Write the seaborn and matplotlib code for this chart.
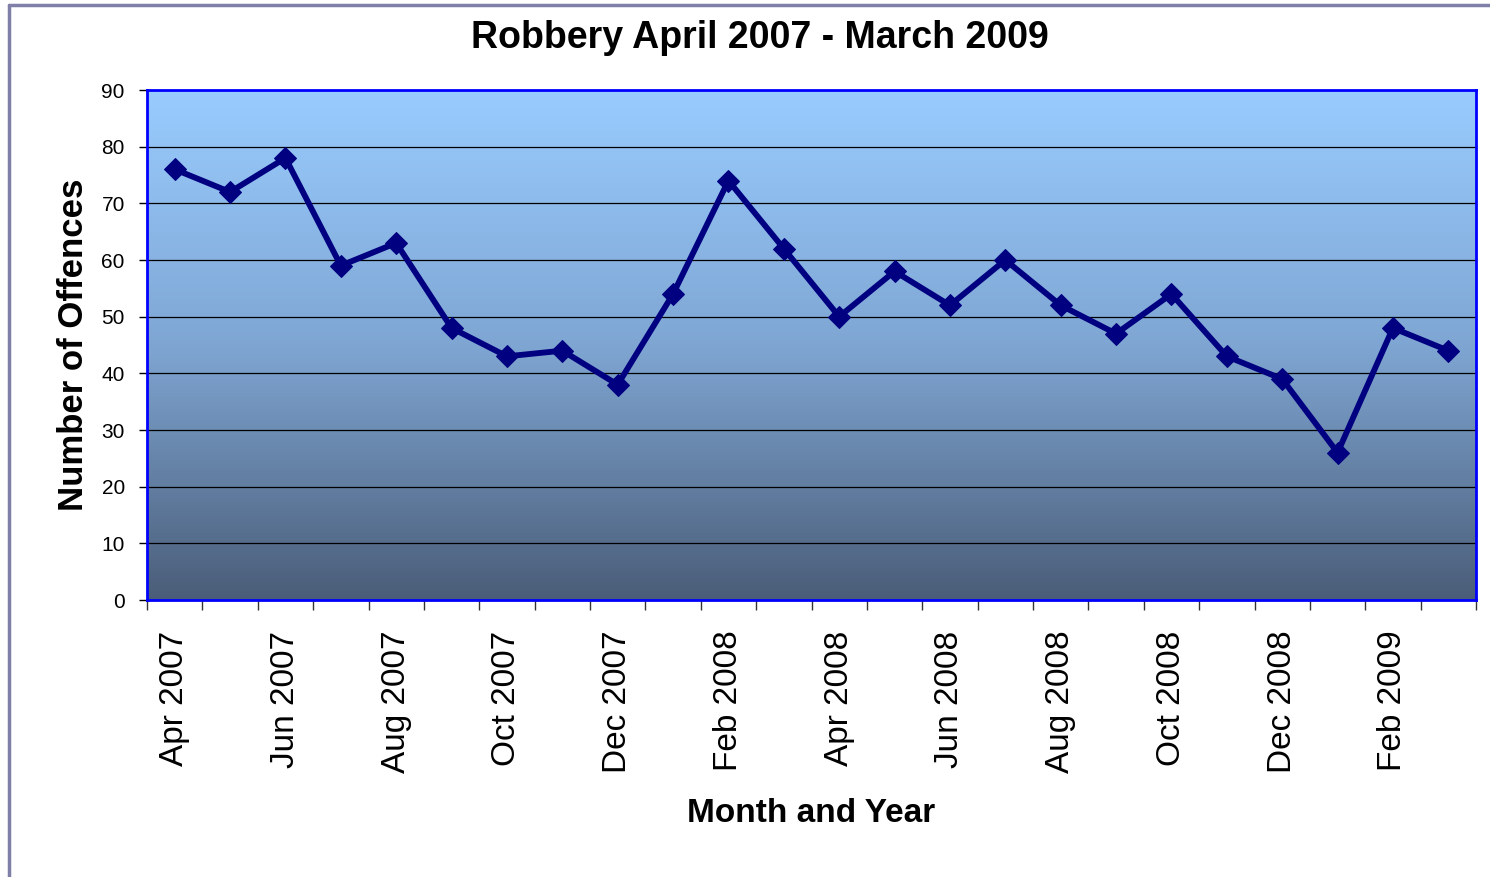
import numpy as np
import pandas as pd
import matplotlib
matplotlib.use("Agg")
import matplotlib.pyplot as plt
import seaborn as sns
from matplotlib.colors import LinearSegmentedColormap
from matplotlib.lines import Line2D

months = ["Apr 2007", "May 2007", "Jun 2007", "Jul 2007", "Aug 2007", "Sep 2007",
          "Oct 2007", "Nov 2007", "Dec 2007", "Jan 2008", "Feb 2008", "Mar 2008",
          "Apr 2008", "May 2008", "Jun 2008", "Jul 2008", "Aug 2008", "Sep 2008",
          "Oct 2008", "Nov 2008", "Dec 2008", "Jan 2009", "Feb 2009", "Mar 2009"]
offences = [76, 72, 78, 59, 63, 48, 43, 44, 38, 54, 74, 62,
            50, 58, 52, 60, 52, 47, 54, 43, 39, 26, 48, 44]
y_ticks = [0, 10, 20, 30, 40, 50, 60, 70, 80, 90]

sns.set_theme(style="white")
plt.rcParams['font.family'] = ['Liberation Sans', 'DejaVu Sans']
plt.rcParams['text.color'] = 'black'
plt.rcParams['axes.labelcolor'] = 'black'
plt.rcParams['xtick.color'] = 'black'
plt.rcParams['ytick.color'] = 'black'

df = pd.DataFrame({"idx": np.arange(len(months)), "month": months, "offences": offences})

fig = plt.figure(figsize=(14.9, 8.77), dpi=100)
ax = fig.add_axes([147/1490, 1-600/877, (1476-147)/1490, (600-90)/877])

# gradient background
cmap = LinearSegmentedColormap.from_list("bg", ["#4A5D78", "#7FA6D3", "#99CCFF"])
grad = np.linspace(0, 1, 256).reshape(-1, 1)
ax.imshow(grad, cmap=cmap, aspect="auto", extent=[0, 1, 0, 1],
          transform=ax.transAxes, origin="lower", zorder=0)

sns.lineplot(data=df, x="idx", y="offences", ax=ax, color="#000080",
             linewidth=4.2, marker="D", markersize=11, markeredgecolor="#000080",
             zorder=3)

n = len(months)
ax.set_xlim(-0.5, n - 0.5)
ax.set_ylim(0, 90)
ax.set_yticks(y_ticks)
ax.set_yticklabels([str(v) for v in y_ticks], fontsize=15)
for v in y_ticks[1:-1]:
    ax.axhline(v, color="black", linewidth=0.9, zorder=1)

# x ticks at category boundaries, labels at every second category centre
ax.set_xticks(np.arange(n + 1) - 0.5)
ax.set_xticklabels([])
ax.set_xticks(np.arange(0, n, 2), minor=True)
ax.set_xticklabels([months[i] for i in range(0, n, 2)], minor=True,
                   rotation=90, fontsize=24)
ax.tick_params(axis="x", which="major", direction="out", length=7, width=1,
               color="#333333", bottom=True)
ax.tick_params(axis="x", which="minor", length=0, pad=22, bottom=True)
ax.tick_params(axis="y", direction="out", length=6, width=1, color="black",
               left=True, pad=10)

for s in ax.spines.values():
    s.set_color("#0000FF")
    s.set_linewidth(2)
    s.set_visible(True)

ax.set_xlabel("Month and Year", fontsize=24, fontweight="bold", labelpad=18)
ax.set_ylabel("Number of Offences", fontsize=25, fontweight="bold", labelpad=8)
fig.text(760/1490, 1-38/877, "Robbery April 2007 - March 2009", fontsize=27,
         fontweight="bold", ha="center", va="center")

# outer border (left and top)
fig.add_artist(Line2D([9/1490, 9/1490], [0, 1-5/877], transform=fig.transFigure,
                      color="#7F7FA8", linewidth=2.5))
fig.add_artist(Line2D([9/1490, 1], [1-5/877, 1-5/877], transform=fig.transFigure,
                      color="#7F7FA8", linewidth=2.5))

fig.savefig("out.png", dpi=100)
